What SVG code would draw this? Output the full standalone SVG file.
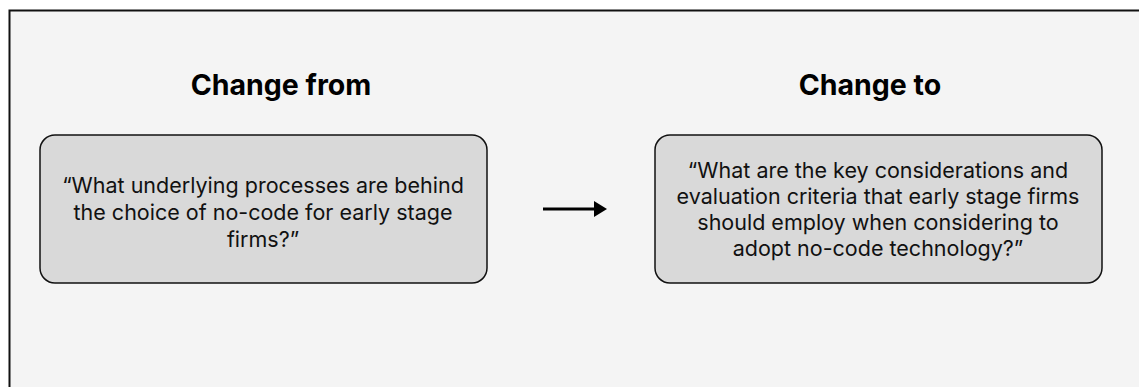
<svg xmlns="http://www.w3.org/2000/svg" width="1139" height="387" viewBox="0 0 1139 387">
  <defs>
    <marker id="head" markerWidth="13" markerHeight="16" refX="0" refY="8" orient="auto" markerUnits="userSpaceOnUse">
      <path d="M0,0 L13,8 L0,16 Z" fill="#000"/>
    </marker>
  </defs>
  <style>
    .title { font-family: Inter, "Liberation Sans", sans-serif; font-weight: 700; font-size: 28.5px; fill: #000; text-anchor: middle; }
    .body { font-family: Inter, "Liberation Sans", sans-serif; font-size: 21.5px; fill: #111; text-anchor: middle; }
    .box { fill: #d9d9d9; stroke: #111; stroke-width: 1.5; }
  </style>
  <rect width="1139" height="387" fill="#ffffff"/>
  <rect x="9.5" y="10.5" width="1140" height="390" fill="#f4f4f4" stroke="#111" stroke-width="2"/>

  <g id="from">
    <text class="title" x="281" y="95">Change from</text>
    <rect class="box" x="40" y="135" width="447" height="148" rx="15"/>
    <text class="body" x="263" y="193">“What underlying processes are behind</text>
    <text class="body" x="263" y="220">the choice of no-code for early stage</text>
    <text class="body" x="263" y="247">firms?”</text>
  </g>

  <g id="to">
    <text class="title" x="870" y="95">Change to</text>
    <rect class="box" x="655" y="135" width="447" height="148" rx="15"/>
    <text class="body" x="878" y="178">“What are the key considerations and</text>
    <text class="body" x="878" y="204">evaluation criteria that early stage firms</text>
    <text class="body" x="878" y="230">should employ when considering to</text>
    <text class="body" x="878" y="256">adopt no-code technology?”</text>
  </g>

  <g id="connectors">
    <line x1="543" y1="209" x2="594" y2="209" stroke="#000" stroke-width="3" marker-end="url(#head)"/>
  </g>
</svg>
